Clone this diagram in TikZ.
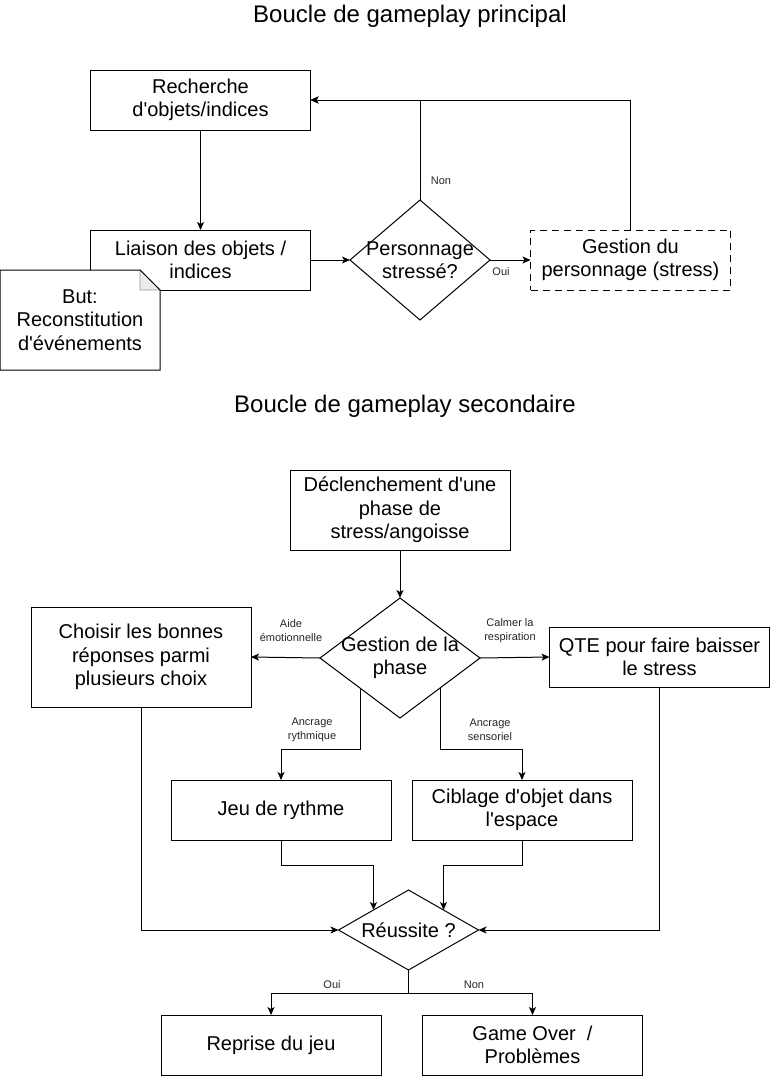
\documentclass[tikz,border=0pt]{standalone}
\usepackage{fontspec}
\setmainfont{Liberation Sans}
\usetikzlibrary{shapes.geometric,arrows.meta,calc}
\newcommand{\apos}{\textquotesingle}

\begin{document}
\begin{tikzpicture}[%
    x=1pt,
    y=-1pt,
    every node/.style={outer sep=0pt},
    box/.style={
      rectangle,
      draw=black,
      line width=1pt,
      fill=white,
      minimum width=220pt,
      minimum height=60pt,
      align=center,
      inner sep=0pt,
      font=\fontsize{20}{23.5}\selectfont
    },
    decision/.style={
      diamond,
      draw=black,
      line width=1pt,
      fill=white,
      inner sep=0pt
    },
    txt/.style={
      align=center,
      inner sep=0pt,
      font=\fontsize{20}{23.5}\selectfont
    },
    titre/.style={
      font=\fontsize{24}{28}\selectfont
    },
    lbl/.style={
      align=center,
      inner sep=0pt,
      text=black!85,
      font=\fontsize{11}{14}\selectfont
    },
    note/.style={
      rectangle,
      fill=white,
      minimum width=160pt,
      minimum height=100pt,
      align=center,
      inner sep=0pt,
      font=\fontsize{20}{23.5}\selectfont
    },
    arr/.style={
      draw,
      line width=1pt,
      -{Stealth[length=8pt,width=7pt,inset=2pt]}
    }
  ]
  \useasboundingbox (0,0) rectangle (771,1076);

  % boucle principale
  \node[titre] (t1) at (410,16) {Boucle de gameplay principal};
  \node[box] (rech) at (200.5,100) {Recherche\\d\apos objets/indices};
  \node[box] (liai) at (200.5,260) {Liaison des objets /\\indices};
  \node[decision, minimum width=140pt, minimum height=120pt,
    label={[txt]center:{Personnage\\stressé?}}] (pers) at (420,260) {};
  \node[box, minimum width=200pt, dash pattern=on 7pt off 5pt] (gest) at (630.5,260) {Gestion du\\personnage (stress)};

  \node[note] (but) at (80,320) {But:\\Reconstitution\\d\apos événements};
  \draw[line width=1pt] (but.north west) -- ($(but.north east)+(-20,0)$) -- ($(but.north east)+(0,20)$)
    -- (but.south east) -- (but.south west) -- cycle;
  \filldraw[fill=black!8, draw=black!40, line width=0.6pt] ($(but.north east)+(-20,0)$) -- ($(but.north east)+(-20,20)$)
    -- ($(but.north east)+(0,20)$) -- cycle;
  \draw[line width=1pt] ($(but.north east)+(-20,0)$) -- ($(but.north east)+(0,20)$);

  \draw[arr] (rech.south) -- (liai.north);
  \draw[arr] (liai.east) -- (pers.west);
  \draw[arr] (pers.east) -- (gest.west);
  \draw[arr] (gest.north) |- (rech.east);
  \draw[arr] (pers.north) |- (rech.east);
  \node[lbl] (lnon) at (441,181) {Non};
  \node[lbl] (loui) at (501,272) {Oui};

  % boucle secondaire
  \node[titre] (t2) at (405,406) {Boucle de gameplay secondaire};
  \node[box, minimum height=80pt] (decl) at (400,510) {Déclenchement d\apos une\\phase de\\stress/angoisse};
  \node[decision, minimum width=160pt, minimum height=120pt,
    label={[txt]center:{Gestion de la\\phase}}] (phase) at (400,658) {};
  \node[box, minimum height=100pt] (chois) at (141,657) {Choisir les bonnes\\réponses parmi\\plusieurs choix};
  \node[box] (qte) at (659.5,657) {QTE pour faire baisser\\le stress};
  \node[box] (jeu) at (281,810) {Jeu de rythme};
  \node[box] (cibl) at (522,810) {Ciblage d\apos objet dans\\l\apos espace};
  \node[decision, minimum width=140pt, minimum height=80pt,
    label={[txt]center:{Réussite ?}}] (reus) at (408.5,930) {};
  \node[box] (rep) at (271,1045) {Reprise du jeu};
  \node[box] (over) at (532.5,1045) {Game Over~~/\\Problèmes};

  \draw[arr] (decl.south) -- (phase.north);
  \draw[arr] (phase.west) -- (chois.east);
  \draw[arr] (phase.east) -- (qte.west);
  \draw[arr] ($(phase.west)!0.5!(phase.south)$) |- ($(jeu.north)+(0,-31)$) -- (jeu.north);
  \draw[arr] ($(phase.east)!0.5!(phase.south)$) |- ($(cibl.north)+(0,-31)$) -- (cibl.north);
  \draw[arr] (jeu.south) -- ++(0,25) -| ($(reus.west)!0.5!(reus.north)$);
  \draw[arr] (cibl.south) -- ++(0,25) -| ($(reus.east)!0.5!(reus.north)$);
  \draw[arr] (chois.south) |- (reus.west);
  \draw[arr] (qte.south) |- (reus.east);
  \draw[arr] (reus.south) -- ++(0,23) -| (rep.north);
  \draw[arr] (reus.south) -- ++(0,23) -| (over.north);

  \node[lbl] (laide) at (291,631) {Aide\\émotionnelle};
  \node[lbl] (lcalm) at (510,631) {Calmer la\\respiration};
  \node[lbl] (lryth) at (312,730) {Ancrage\\rythmique};
  \node[lbl] (lsens) at (490,730) {Ancrage\\sensoriel};
  \node[lbl] (loui2) at (332,985) {Oui};
  \node[lbl] (lnon2) at (474,985) {Non};
\end{tikzpicture}
\end{document}
